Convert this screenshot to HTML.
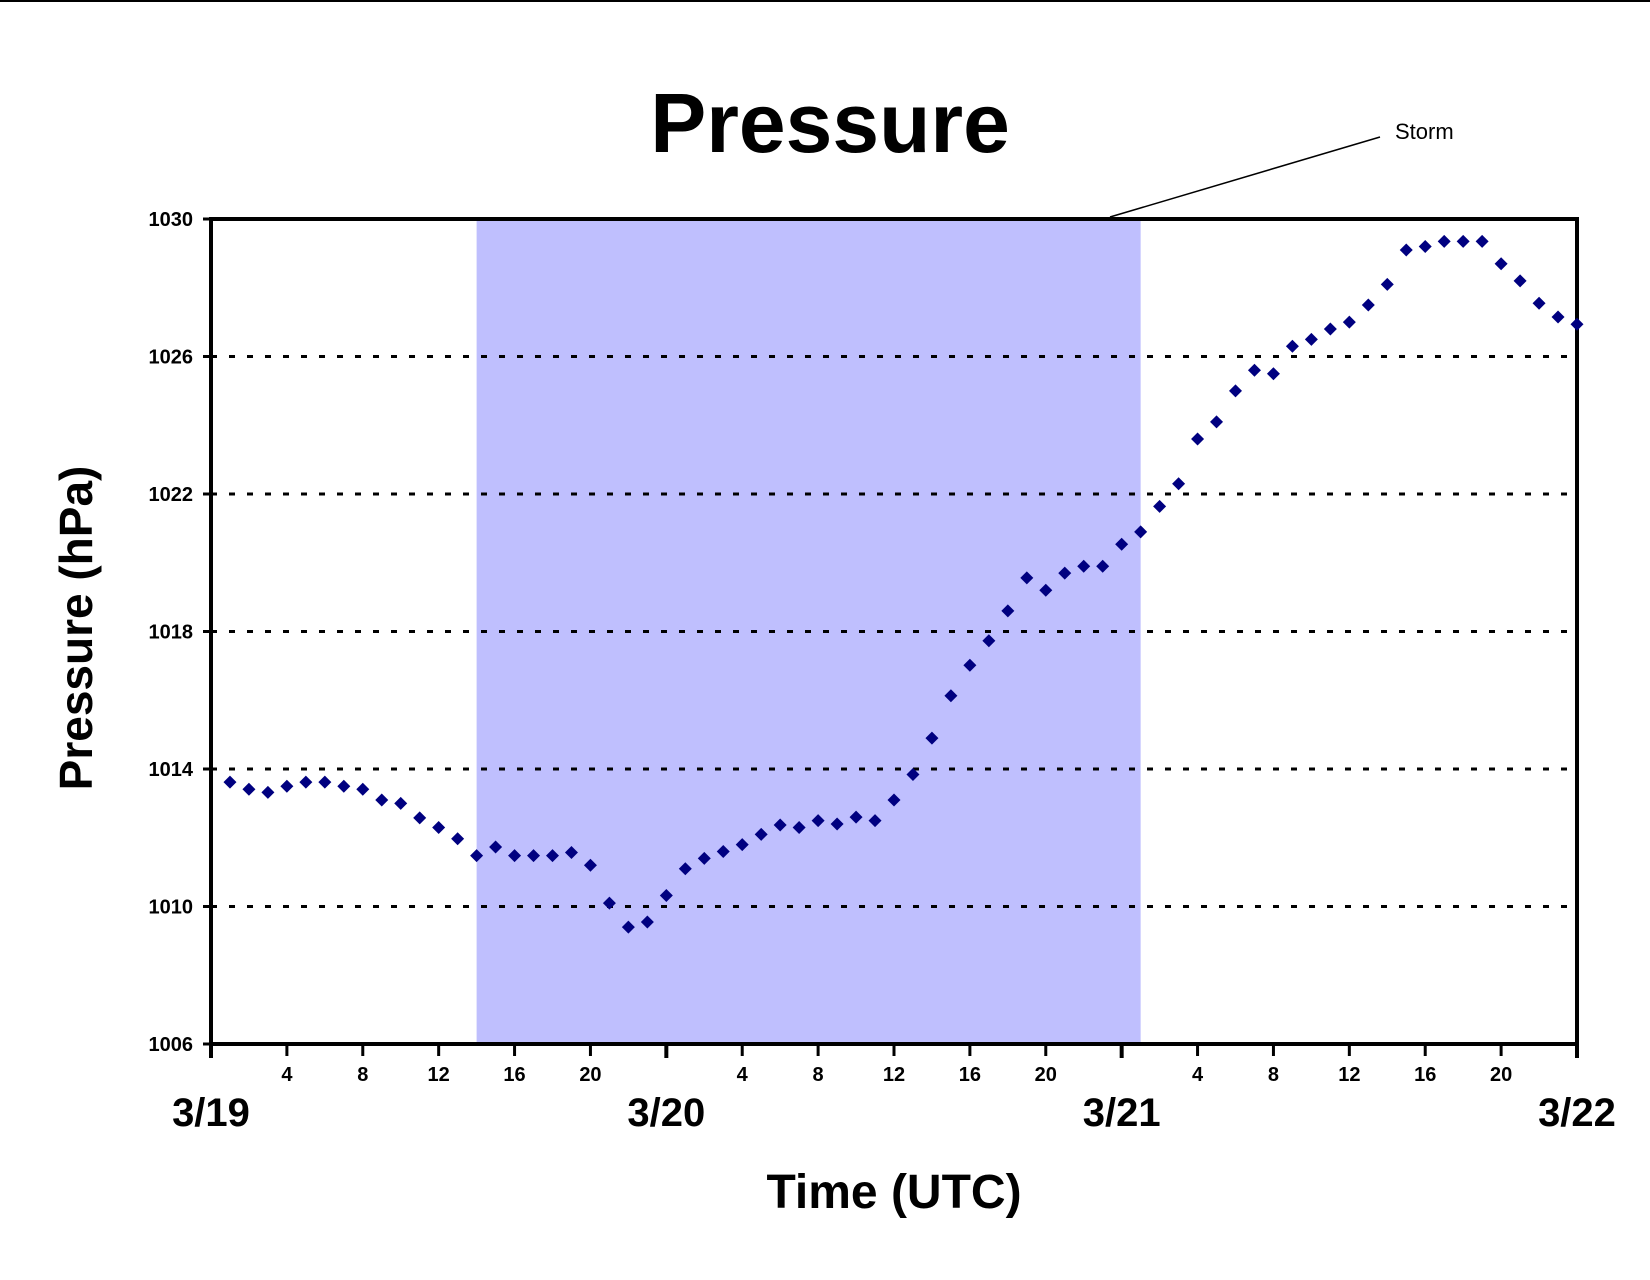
<!DOCTYPE html>
<html><head><meta charset="utf-8"><style>
html,body{margin:0;padding:0;background:#fff;}
body{width:1650px;height:1275px;overflow:hidden;}
svg text{font-family:"Liberation Sans",Arial,sans-serif;font-weight:bold;fill:#000;}
</style></head><body>
<svg id="chart" width="1650" height="1275" viewBox="0 0 1650 1275" xmlns="http://www.w3.org/2000/svg">
<line x1="0" y1="1" x2="1650" y2="1" stroke="#000" stroke-width="2"/>
<text x="830" y="152" font-size="84" text-anchor="middle">Pressure</text>
<g id="plot"></g>
<text x="1395" y="139" font-size="22" style="font-weight:normal">Storm</text>
<line x1="1380" y1="137" x2="1110" y2="217" stroke="#000" stroke-width="1.5"/>
<text transform="translate(92,628) rotate(-90)" font-size="46" text-anchor="middle">Pressure (hPa)</text>
<text x="894" y="1208" font-size="48" text-anchor="middle">Time (UTC)</text>
</svg>
<script>
const hours = [1,2,3,4,5,6,7,8,9,10,11,12,13,14,15,16,17,18,19,20,21,22,23,24,25,26,27,28,29,30,31,32,33,34,35,36,37,38,39,40,41,42,43,44,45,46,47,48,49,50,51,52,53,54,55,56,57,58,59,60,61,62,63,64,65,66,67,68,69,70,71,72];
const pressure = [1013.62,1013.41,1013.32,1013.5,1013.62,1013.62,1013.5,1013.41,1013.1,1013.0,1012.58,1012.3,1011.97,1011.48,1011.73,1011.48,1011.48,1011.48,1011.57,1011.2,1010.1,1009.4,1009.55,1010.32,1011.1,1011.4,1011.6,1011.8,1012.1,1012.37,1012.3,1012.5,1012.4,1012.6,1012.5,1013.1,1013.84,1014.9,1016.13,1017.02,1017.73,1018.6,1019.56,1019.2,1019.7,1019.9,1019.9,1020.54,1020.9,1021.64,1022.3,1023.6,1024.1,1025.0,1025.6,1025.5,1026.3,1026.5,1026.8,1027.0,1027.5,1028.1,1029.1,1029.2,1029.35,1029.35,1029.35,1028.7,1028.2,1027.55,1027.15,1026.94];
const yTicks = [1006,1010,1014,1018,1022,1026,1030];
const hourTicks = [4,8,12,16,20];
const dateLabels = ["3/19","3/20","3/21","3/22"];
const stormSpan = [14,49];

const X0=211,X1=1577,Y0=1044,Y1=219,HMAX=72,PMIN=1006,PMAX=1030;
function xs(h){return X0+(h/HMAX)*(X1-X0);}
function ys(p){return Y0-(p-PMIN)/(PMAX-PMIN)*(Y0-Y1);}
const NS="http://www.w3.org/2000/svg";
const plot=document.getElementById('plot');
function mk(tag,attrs,parent){const e=document.createElementNS(NS,tag);for(const k in attrs)e.setAttribute(k,attrs[k]);(parent||plot).appendChild(e);return e;}

// storm shading
let r=mk('rect',{x:xs(stormSpan[0]),y:Y1,width:xs(stormSpan[1])-xs(stormSpan[0]),height:Y0-Y1,fill:'#bfbffe'});



// gridlines and y labels
yTicks.forEach(v=>{
  if(v!==PMIN && v!==PMAX){
    let g=mk('line',{x1:X0,y1:ys(v),x2:X1,y2:ys(v),stroke:'#000','stroke-width':3,'stroke-dasharray':'6 12'});
    
    
  }
  let t=mk('line',{x1:X0-8,y1:ys(v),x2:X0,y2:ys(v),stroke:'#000','stroke-width':3});
  
  
  let l=mk('text',{x:X0-18,y:ys(v)+7,'font-size':20,'text-anchor':'end'});
  l.textContent=v;
  
  
});

// frame
let fr=mk('rect',{x:X0,y:Y1,width:X1-X0,height:Y0-Y1,fill:'none',stroke:'#000','stroke-width':4});



// x ticks and labels
for(let d=0;d<dateLabels.length;d++){
  let h0=d*24;
  let tk=mk('line',{x1:xs(h0),y1:Y0,x2:xs(h0),y2:Y0+14,stroke:'#000','stroke-width':4});
  
  
  let dl=mk('text',{x:xs(h0),y:1126,'font-size':40,'text-anchor':'middle'});
  dl.textContent=dateLabels[d];
  
  
  if(d<dateLabels.length-1){
    hourTicks.forEach(hh=>{
      let t=mk('line',{x1:xs(h0+hh),y1:Y0,x2:xs(h0+hh),y2:Y0+12,stroke:'#000','stroke-width':3});
      
      
      let l=mk('text',{x:xs(h0+hh),y:1081,'font-size':20,'text-anchor':'middle'});
      l.textContent=hh;
      
      
    });
  }
}

// points
hours.forEach((h,i)=>{
  const cx=xs(h),cy=ys(pressure[i]),s=6.5;
  let p=mk('polygon',{points:`${cx},${cy-s} ${cx+s},${cy} ${cx},${cy+s} ${cx-s},${cy}`,fill:'#000080'});
  
  
});
</script>
</body></html>
